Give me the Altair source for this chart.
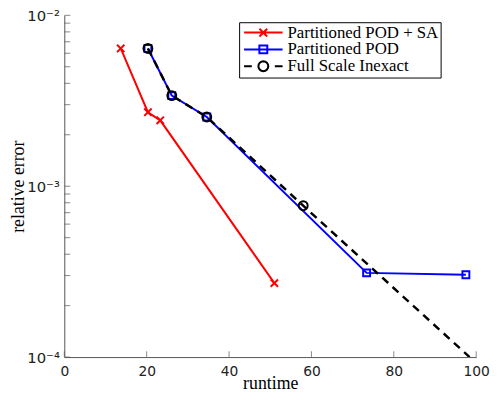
import math
import altair as alt
import pandas as pd

series_names = ["Partitioned POD + SA", "Partitioned POD", "Full Scale Inexact"]
series_colors = ["#ff0000", "#0000ff", "#000000"]

sa_runtime = [13.7, 20.3, 23.3, 51.0]
sa_error = [6.4e-3, 2.71e-3, 2.43e-3, 2.71e-4]

pod_runtime = [20.3, 26.1, 34.6, 73.4, 97.5]
pod_error = [6.4e-3, 3.39e-3, 2.54e-3, 3.11e-4, 3.03e-4]

full_runtime = [20.3, 26.1, 34.6, 58.0, 98.4]
full_error = [6.4e-3, 3.39e-3, 2.54e-3, 7.69e-4, 1.0e-4]
full_marked = [True, True, True, True, False]

x_ticks = [0, 20, 40, 60, 80, 100]
y_labels = [1e-4, 1e-3, 1e-2]
y_ticks = [1e-4, 2e-4, 3e-4, 4e-4, 5e-4, 6e-4, 7e-4, 8e-4, 9e-4,
           1e-3, 2e-3, 3e-3, 4e-3, 5e-3, 6e-3, 7e-3, 8e-3, 9e-3, 1e-2]

rows = []
for i, (r, e) in enumerate(zip(sa_runtime, sa_error)):
    rows.append({"series": series_names[0], "runtime": r, "error": e, "order": i, "marked": True})
for i, (r, e) in enumerate(zip(pod_runtime, pod_error)):
    rows.append({"series": series_names[1], "runtime": r, "error": e, "order": i, "marked": True})
for i, (r, e, m) in enumerate(zip(full_runtime, full_error, full_marked)):
    rows.append({"series": series_names[2], "runtime": r, "error": e, "order": i, "marked": m})
df = pd.DataFrame(rows)

x_scale = alt.Scale(domain=[0, 100], nice=False, zero=False)
y_scale = alt.Scale(type="log", domain=[1e-4, 1e-2], nice=False)
color_scale = alt.Scale(domain=series_names, range=series_colors)

x_axis = alt.Axis(values=x_ticks, title="runtime", ticks=False, grid=False, labelFlush=False,
                  labelFont="DejaVu Sans", labelFontSize=14, labelColor="#222",
                  labelPadding=8, domainColor="#555",
                  titleFont="Liberation Serif", titleFontSize=18, titleFontWeight="normal",
                  titleColor="black", titleY=27, titleBaseline="middle")
y_axis = alt.Axis(values=y_labels, title="relative error", ticks=False, grid=False, labelFlush=False,
                  labelExpr="datum.value < 0.0005 ? '10⁻⁴' : (datum.value < 0.005 ? '10⁻³' : '10⁻²')",
                  labelFont="DejaVu Sans", labelFontSize=15, labelColor="#222",
                  labelPadding=5, domainColor="#555",
                  titleFont="Liberation Serif", titleFontSize=18, titleFontWeight="normal",
                  titleColor="black", titleX=-46, titleY=173, titleAlign="center",
                  titleBaseline="middle")

base = alt.Chart(df)


def enc_xy(xfield="runtime:Q", yfield="error:Q"):
    return dict(x=alt.X(xfield, scale=x_scale, axis=x_axis),
                y=alt.Y(yfield, scale=y_scale, axis=y_axis))


def line_layer(idx, dash=None, width=2.0):
    kw = {"strokeWidth": width, "clip": True, "color": series_colors[idx]}
    if dash:
        kw["strokeDash"] = dash
    return base.transform_filter(alt.datum.series == series_names[idx]).mark_line(**kw).encode(
        order="order:Q",
        **enc_xy(),
    )


def point_layer(idx, shape, size):
    return base.transform_filter(alt.datum.series == series_names[idx]).transform_filter(
        alt.datum.marked == True
    ).mark_point(shape=shape, size=size, filled=False, strokeWidth=2, opacity=1, clip=True,
                 color=series_colors[idx]).encode(**enc_xy())


def ring(r, n=16):
    pts = []
    for k in range(n):
        a = 2 * math.pi * k / n
        pts.append("%s%.3f,%.3f" % ("M" if k == 0 else "L", r * math.cos(a), r * math.sin(a)))
    return "".join(pts) + "Z"


legend_paths = [
    "M-3.9,0H3.9M-0.78,-0.78L0.78,0.78M-0.78,0.78L0.78,-0.78",
    "M-3.9,0H3.9M-0.8,-0.8H0.8V0.8H-0.8Z",
    "M-3.9,0H-2.33M2.33,0H3.9" + ring(1.0),
]
legend_x = 177
legend_y = 7
legend_props = dict(title=None, orient="none", legendX=legend_x, legendY=legend_y,
                    labelFont="Liberation Serif", labelFontSize=17, labelLimit=400)
legend_layer = base.transform_filter(alt.datum.runtime < 0).mark_point(
    filled=False, strokeWidth=2, opacity=1, size=81
).encode(
    color=alt.Color("series:N", scale=color_scale, legend=alt.Legend(**legend_props)),
    shape=alt.Shape("series:N", scale=alt.Scale(domain=series_names, range=legend_paths),
                    legend=alt.Legend(**legend_props)),
    **enc_xy(),
)

ytick_df = pd.DataFrame({"runtime": [0.0] * len(y_ticks), "error": y_ticks})
xtick_df = pd.DataFrame({"runtime": x_ticks, "error": [1e-4] * len(x_ticks)})
ytick_layer = alt.Chart(ytick_df).mark_tick(orient="horizontal", size=6, thickness=1, color="#555",
                                            xOffset=3).encode(**enc_xy())
xtick_layer = alt.Chart(xtick_df).mark_tick(orient="vertical", size=6, thickness=1, color="#555",
                                            yOffset=-3).encode(**enc_xy())

chart = alt.layer(
    line_layer(0),
    point_layer(0, "M-1,-1L1,1M-1,1L1,-1", 55),
    line_layer(1),
    point_layer(1, "square", 49),
    line_layer(2, dash=[8, 6], width=2.5),
    point_layer(2, "circle", 81),
    ytick_layer,
    xtick_layer,
    legend_layer,
).properties(
    width=417,
    height=346,
    padding={"left": 57, "top": 5, "right": 15, "bottom": 38},
    autosize=alt.AutoSizeParams(type="none"),
).configure_view(stroke=None).configure_legend(
    strokeColor="black",
    fillColor="white",
    padding=2,
    cornerRadius=0,
    labelFont="Liberation Serif",
    labelFontSize=17,
    labelColor="black",
    labelLimit=400,
    symbolStrokeWidth=2,
    symbolOffset=14,
    labelOffset=16,
    rowPadding=-4,
)

chart.save("out.html", embed_options={"renderer": "svg", "actions": False})
